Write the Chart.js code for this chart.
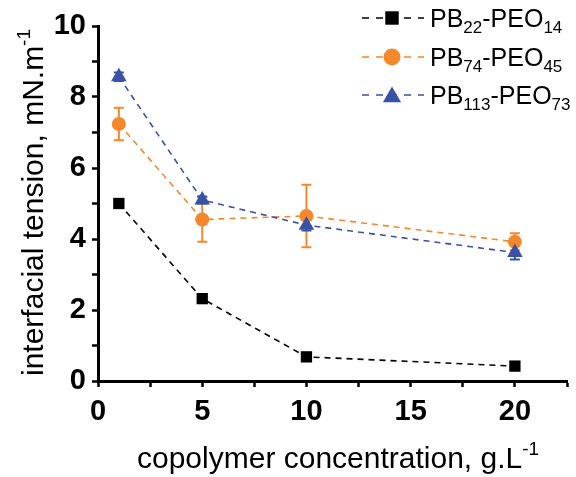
<!DOCTYPE html>
<html>
<head>
<meta charset="utf-8">
<script src="https://cdn.jsdelivr.net/npm/chart.js@4.4.1/dist/chart.umd.min.js"></script>
<style>
  html, body { margin: 0; padding: 0; background: #fff; }
  #wrap { width: 576px; height: 477px; }
</style>
</head>
<body>
<div id="wrap"><canvas id="tensionChart"></canvas></div>
<script>
// concentration in g/L
const concentrations = [1, 5, 10, 20];

// interfacial tension, mN/m
const pb22Values = [5.0, 2.32, 0.68, 0.42];
const pb74Values = [7.24, 4.55, 4.65, 3.92];
const pb74Errors = [0.46, 0.63, 0.88, 0.24];
const pb113Values = [8.57, 5.1, 4.39, 3.62];
const pb113Errors = [0.12, 0.1, 0.15, 0.2];

const xTickLabels = [0, 5, 10, 15, 20];
const yTickLabels = [0, 2, 4, 6, 8, 10];

const seriesNames = [
    ['PB', '22', '-PEO', '14'],
    ['PB', '74', '-PEO', '45'],
    ['PB', '113', '-PEO', '73']
];

const BLACK = '#000000';
const ORANGE = '#F5882A';
const BLUE = '#3A52A6';
const FONT = '"Liberation Sans", Arial, sans-serif';

function toPoints(values) {
    return concentrations.map((c, i) => ({ x: c, y: values[i] }));
}

// error bars, drawn under the markers
const errorBars = {
    id: 'errorBars',
    beforeDatasetsDraw(chart) {
        const ctx = chart.ctx;
        const xs = chart.scales.x, ys = chart.scales.y;
        chart.data.datasets.forEach(ds => {
            if (!ds.errors) return;
            ctx.save();
            ctx.strokeStyle = ds.borderColor;
            ctx.lineWidth = 2;
            ds.data.forEach((p, i) => {
                const e = ds.errors[i];
                const px = xs.getPixelForValue(p.x);
                const top = ys.getPixelForValue(p.y + e);
                const bot = ys.getPixelForValue(p.y - e);
                ctx.beginPath();
                ctx.moveTo(px, top); ctx.lineTo(px, bot);
                ctx.moveTo(px - 5, top); ctx.lineTo(px + 5, top);
                ctx.moveTo(px - 5, bot); ctx.lineTo(px + 5, bot);
                ctx.stroke();
            });
            ctx.restore();
        });
    }
};

// text with sub/superscripts, legend and axis titles
function drawRich(ctx, parts, x, y, size, smallSize, shift) {
    parts.forEach((t, i) => {
        const small = i % 2 === 1;
        ctx.font = (small ? smallSize : size) + 'px ' + FONT;
        ctx.fillText(t, x, small ? y + shift : y);
        x += ctx.measureText(t).width;
    });
}

const customText = {
    id: 'customText',
    afterDraw(chart) {
        const ctx = chart.ctx;
        ctx.save();
        ctx.fillStyle = '#000';
        ctx.textBaseline = 'alphabetic';
        ctx.textAlign = 'left';

        // x title
        drawRich(ctx, ['copolymer concentration, g.L', '-1'], 137, 468, 30, 19, -13);

        // y title
        ctx.save();
        ctx.translate(43, 376);
        ctx.rotate(-Math.PI / 2);
        drawRich(ctx, ['interfacial tension, mN.m', '-1'], 0, 0, 30, 19, -13);
        ctx.restore();

        // legend
        const rows = [18, 57, 95];
        chart.data.datasets.forEach((ds, i) => {
            const y = rows[i];
            ctx.save();
            ctx.strokeStyle = ds.borderColor;
            ctx.lineWidth = 1.6;
            ctx.setLineDash([7, 7]);
            ctx.beginPath();
            ctx.moveTo(362, y); ctx.lineTo(424, y);
            ctx.stroke();
            ctx.setLineDash([]);
            ctx.fillStyle = ds.pointBackgroundColor;
            ctx.strokeStyle = ds.pointBackgroundColor;
            Chart.helpers.drawPoint(ctx, {
                pointStyle: ds.pointStyle,
                rotation: 0,
                borderWidth: 0,
                radius: ds.pointRadius + 1.5
            }, 392, y + (ds.pointStyle === 'triangle' ? 2 : 0));
            ctx.restore();
            ctx.fillStyle = '#000';
            drawRich(ctx, seriesNames[i], 430, y + 9, 25, 17, 6);
        });
        ctx.restore();
    }
};

const ctx = document.getElementById('tensionChart').getContext('2d');

new Chart(ctx, {
    type: 'line',
    data: {
        datasets: [
            {
                label: 'PB22-PEO14',
                data: toPoints(pb22Values),
                borderColor: BLACK,
                backgroundColor: BLACK,
                pointBackgroundColor: BLACK,
                pointStyle: 'rect',
                pointRadius: 8,
                order: 3
            },
            {
                label: 'PB74-PEO45',
                data: toPoints(pb74Values),
                errors: pb74Errors,
                borderColor: ORANGE,
                backgroundColor: ORANGE,
                pointBackgroundColor: ORANGE,
                pointStyle: 'circle',
                pointRadius: 7,
                order: 2
            },
            {
                label: 'PB113-PEO73',
                data: toPoints(pb113Values),
                errors: pb113Errors,
                borderColor: BLUE,
                backgroundColor: BLUE,
                pointBackgroundColor: BLUE,
                pointStyle: 'triangle',
                pointRadius: 9,
                order: 1
            }
        ].map(ds => Object.assign(ds, {
            borderWidth: 1.6,
            borderDash: [6, 5],
            pointBorderWidth: 0,
            tension: 0,
            fill: false
        }))
    },
    plugins: [errorBars, customText],
    options: {
        responsive: true,
        maintainAspectRatio: false,
        animation: false,
        layout: { padding: { top: 26, right: 0, left: 0, bottom: 0 } },
        plugins: {
            legend: { display: false },
            tooltip: { enabled: false }
        },
        scales: {
            x: {
                type: 'linear',
                min: 0,
                max: 22.5,
                afterFit(scale) { scale.height = 96; },
                border: { color: '#000', width: 3 },
                grid: { drawOnChartArea: false, color: '#000', tickLength: 6, tickWidth: 2.5 },
                ticks: {
                    stepSize: 2.5,
                    padding: 8,
                    color: '#000',
                    font: { family: FONT, size: 29, weight: 'bold' },
                    maxRotation: 0,
                    autoSkip: false,
                    callback: v => xTickLabels.includes(v) ? String(v) : ''
                }
            },
            y: {
                min: 0,
                max: 10,
                afterFit(scale) { scale.width = 98; },
                border: { color: '#000', width: 3 },
                grid: { drawOnChartArea: false, color: '#000', tickLength: 6, tickWidth: 2.5 },
                ticks: {
                    stepSize: 1,
                    padding: 6,
                    color: '#000',
                    font: { family: FONT, size: 29, weight: 'bold' },
                    autoSkip: false,
                    callback: v => yTickLabels.includes(v) ? String(v) : ''
                }
            }
        }
    }
});
</script>
</body>
</html>
